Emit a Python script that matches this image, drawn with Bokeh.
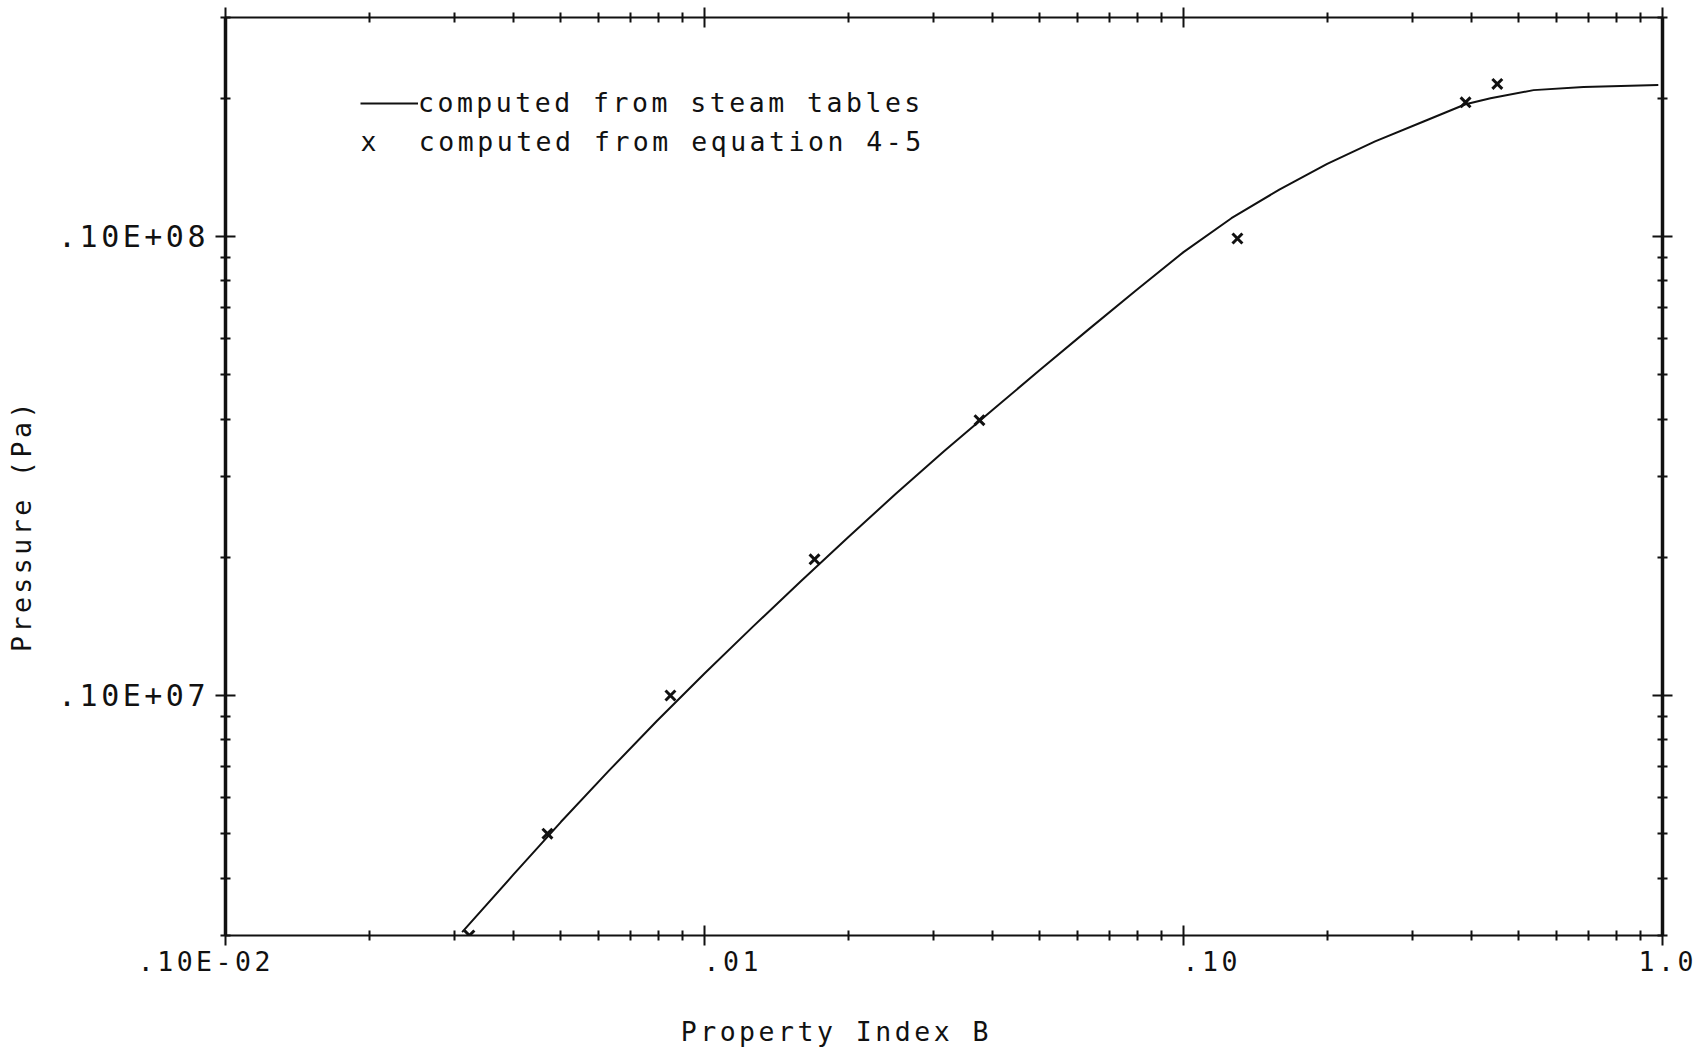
from bokeh.plotting import figure
from bokeh.models import (Range1d, LogAxis, FixedTicker, Label, Legend, LegendItem,
                          InlineStyleSheet)
from bokeh.embed import file_html
from bokeh.resources import INLINE

NBSP = "\u00a0"

# Saturation pressure against property index B, from the steam tables
b_tables = [0.003119, 0.003981, 0.005012, 0.00631, 0.007943, 0.01, 0.01259, 0.01585,
            0.01995, 0.02512, 0.03162, 0.03981, 0.05012, 0.0631, 0.07943, 0.1, 0.1259,
            0.1585, 0.1995, 0.2512, 0.3162, 0.388, 0.4375, 0.538, 0.684, 0.98]
p_tables = [3.05e5, 4.06e5, 5.30e5, 6.85e5, 8.79e5, 1.117e6, 1.409e6, 1.770e6,
            2.213e6, 2.754e6, 3.404e6, 4.178e6, 5.117e6, 6.252e6, 7.621e6, 9.247e6, 1.096e7,
            1.265e7, 1.439e7, 1.611e7, 1.778e7, 1.941e7, 2.0e7, 2.084e7, 2.118e7, 2.138e7]

# Values given by equation 4-5
b_eq = [0.00323, 0.0047, 0.00849, 0.01697, 0.0375, 0.1296, 0.388, 0.452]
p_eq = [3.0e5, 5.0e5, 1.0e6, 1.98e6, 3.98e6, 9.9e6, 1.96e7, 2.15e7]

# Axis ticks and their printed labels (padded so each sits where the printer put it)
x_major = [0.001, 0.01, 0.1, 1.0]
x_major_labels = [".10E-02" + NBSP * 4, NBSP * 2 + ".01", NBSP * 2 + ".10", "1.0"]
x_minor = [m * d for d in (0.001, 0.01, 0.1) for m in range(2, 10)]
y_major = [1.0e6, 1.0e7]
y_major_labels = [".10E+07", ".10E+08"]
y_minor = [m * d for d in (1e5, 1e6, 1e7) for m in range(2, 10)
           if 3e5 <= m * d <= 3e7]

x_title = "Property Index B"
y_title = "Pressure (Pa)"
legend_line = "computed from steam tables"
legend_mark = "x" + NBSP * 2 + "computed from equation 4-5"

FONT = "DejaVu Sans Mono"
TEXT_SIZE = "26.5px"
INK = "#111111"

p = figure(width=1698, height=1049, x_axis_type="log", y_axis_type="log",
           x_range=Range1d(0.001, 1.0), y_range=Range1d(3.0e5, 3.0e7),
           output_backend="svg", toolbar_location=None,
           min_border_left=225, min_border_right=36, min_border_top=17,
           min_border_bottom=113)
# wide, typewriter-like character pitch for every printed text
p.stylesheets = [InlineStyleSheet(css=":host { letter-spacing: 3.5px; }")]
p.outline_line_color = None
p.grid.visible = False
p.background_fill_color = "white"
p.border_fill_color = "white"


def style_axis(ax, width, label_size):
    ax.axis_line_color = INK
    ax.axis_line_width = width
    ax.major_tick_line_color = INK
    ax.minor_tick_line_color = INK
    ax.major_tick_line_width = 2
    ax.minor_tick_line_width = 2
    ax.major_tick_in = 10
    ax.major_tick_out = 10
    ax.minor_tick_in = 5
    ax.minor_tick_out = 5
    ax.major_label_text_font = FONT
    ax.major_label_text_color = INK
    ax.axis_label_text_font = FONT
    ax.axis_label_text_font_size = TEXT_SIZE
    ax.axis_label_text_font_style = "normal"
    ax.axis_label_text_color = INK
    if label_size:
        ax.major_label_text_font_size = label_size
    else:
        ax.major_label_text_font_size = "1px"
        ax.major_label_text_alpha = 0
        ax.major_label_standoff = 0


xticker = FixedTicker(ticks=x_major, minor_ticks=x_minor)
yticker = FixedTicker(ticks=y_major, minor_ticks=y_minor)

# bottom axis; the title is padded on its right so it sits left of centre
bottom = p.xaxis[0]
bottom.ticker = xticker
bottom.major_label_overrides = dict(zip(x_major, x_major_labels))
style_axis(bottom, 2, TEXT_SIZE)
bottom.major_label_standoff = 0
bottom.axis_label = x_title + NBSP * 17
bottom.axis_label_standoff = 36

# left axis; the title is padded so it sits below centre
left = p.yaxis[0]
left.ticker = yticker
left.major_label_overrides = dict(zip(y_major, y_major_labels))
style_axis(left, 3.5, "30px")
left.major_label_standoff = 31
left.major_label_orientation = "horizontal"
left.axis_label = y_title + NBSP * 9
left.axis_label_standoff = 18

top = LogAxis(ticker=xticker)
top.major_label_overrides = {t: "" for t in x_major}
style_axis(top, 2, None)
p.add_layout(top, "above")

right = LogAxis(ticker=yticker)
right.major_label_overrides = {t: "" for t in y_major}
style_axis(right, 3.5, None)
p.add_layout(right, "right")

line = p.line(b_tables, p_tables, line_color=INK, line_width=2)
p.scatter(b_eq, p_eq, marker="x", size=14, line_color=INK, line_width=3)

legend = Legend(items=[LegendItem(label=legend_line, renderers=[line])],
                location=(135, 817), orientation="vertical",
                glyph_width=58, glyph_height=20, label_height=20, label_standoff=0,
                padding=0, margin=0, spacing=0,
                label_text_font=FONT, label_text_font_size=TEXT_SIZE, label_text_color=INK,
                border_line_color=None, background_fill_alpha=0)
p.add_layout(legend)

p.add_layout(Label(x=135, y=794, x_units="screen", y_units="screen",
                   text=legend_mark, text_font=FONT,
                   text_font_size=TEXT_SIZE, text_color=INK,
                   text_align="left", text_baseline="middle"))

open("out.html", "w").write(file_html(p, INLINE))
